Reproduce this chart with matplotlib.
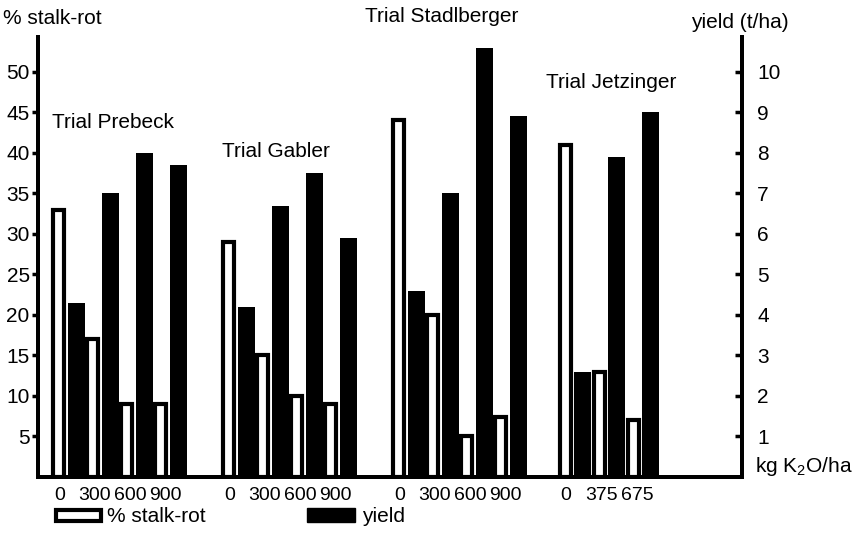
import matplotlib
matplotlib.use("Agg")
import matplotlib.pyplot as plt
from matplotlib.patches import Rectangle

plt.rcParams['font.family'] = ['Liberation Sans', 'DejaVu Sans']
plt.rcParams['mathtext.fontset'] = 'custom'
plt.rcParams['mathtext.rm'] = 'Liberation Sans'

# potash trials: stalk-rot (%) and yield (t/ha) per K2O dose
trials = ['Trial Prebeck', 'Trial Gabler', 'Trial Stadlberger', 'Trial Jetzinger']
doses = [['0', '300', '600', '900'],
         ['0', '300', '600', '900'],
         ['0', '300', '600', '900'],
         ['0', '375', '675']]
stalk_rot = [[33, 17, 9, 9],
             [29, 15, 10, 9],
             [44, 20, 5, 7.4],
             [41, 13, 7]]
yield_tha = [[4.3, 7.0, 8.0, 7.7],
             [4.2, 6.7, 7.5, 5.9],
             [4.6, 7.0, 10.6, 8.9],
             [2.6, 7.9, 9.0]]

W, H = 856, 537
fig = plt.figure(figsize=(W / 100, H / 100), dpi=100)

def fx(px):
    return px / W

def fy(py):
    return 1 - py / H

ax = fig.add_axes([fx(38), fy(477), fx(742) - fx(38), fy(37) - fy(477)])
ax2 = ax.twinx()

group_start = [0, 5, 10, 14.9]
tick_pos, tick_lab = [], []
for g in range(len(trials)):
    for i in range(len(doses[g])):
        u = group_start[g] + i
        ax.bar(u + 0.2, stalk_rot[g][i], width=0.33, facecolor='white',
               edgecolor='black', linewidth=3, zorder=2)
        ax2.bar(u + 0.71, yield_tha[g][i], width=0.5, color='black',
                linewidth=0, zorder=2)
        tick_pos.append(u + 0.22 + 0.04 * i)
        tick_lab.append(doses[g][i])

ymax = 54.3
ax.set_xlim(-0.41, 20.29)
ax.set_ylim(0, ymax)
ax2.set_ylim(0, ymax / 5)

ax.set_yticks(range(5, 51, 5))
ax2.set_yticks(range(1, 11))
ax.set_xticks(tick_pos)
ax.set_xticklabels(tick_lab, fontsize=14)
ax.tick_params(axis='x', length=0, pad=7)
ax.tick_params(axis='y', direction='out', length=4, width=2.5, pad=2, labelsize=15)
ax2.tick_params(axis='y', direction='in', length=5, width=2.5, pad=11, labelsize=15)

for a in (ax, ax2):
    a.spines['top'].set_visible(False)
    for s in ('left', 'right', 'bottom'):
        a.spines[s].set_linewidth(2.8)
ax.patch.set_visible(False)

# axis titles and trial names
fig.text(fx(3), fy(19), '% stalk-rot', fontsize=15, va='center', ha='left')
fig.text(fx(691), fy(22), 'yield (t/ha)', fontsize=15, va='center', ha='left')
fig.text(fx(755), fy(467), r'kg K$\mathregular{_2}$O/ha', fontsize=15, va='center', ha='left')
label_xy = [(52, 122), (222, 152), (365, 16), (546, 83)]
for name, (x, y) in zip(trials, label_xy):
    fig.text(fx(x), fy(y), name, fontsize=15, va='center', ha='left')

# legend swatches
fig.add_artist(Rectangle((fx(56), fy(521)), fx(101) - fx(56), fy(510) - fy(521),
                         facecolor='white', edgecolor='black', linewidth=3,
                         transform=fig.transFigure))
fig.text(fx(107), fy(517), '% stalk-rot', fontsize=15, va='center', ha='left')
fig.add_artist(Rectangle((fx(307), fy(522)), fx(355) - fx(307), fy(508) - fy(522),
                         facecolor='black', edgecolor='black', linewidth=1,
                         transform=fig.transFigure))
fig.text(fx(362), fy(517), 'yield', fontsize=15, va='center', ha='left')

fig.savefig('out.png', dpi=100)
